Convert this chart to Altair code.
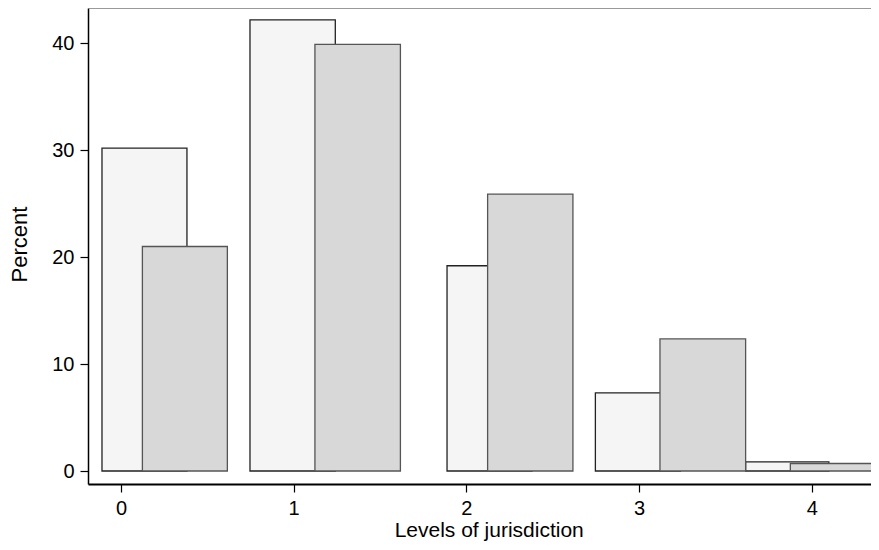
import altair as alt
import pandas as pd

# Histogram bars (bin edges on the x scale, percent heights)
light_start = [-0.110, 0.747, 1.888, 2.747, 3.617]
light_end = [0.382, 1.241, 2.380, 3.240, 4.099]
light_pct = [30.2, 42.2, 19.2, 7.3, 0.85]

dark_start = [0.124, 1.123, 2.123, 3.121, 3.876]
dark_end = [0.616, 1.618, 2.617, 3.617, 4.372]
dark_pct = [21.0, 39.9, 25.9, 12.35, 0.7]

x_ticks = [0, 1, 2, 3, 4]
y_ticks = [0, 10, 20, 30, 40]

light_df = pd.DataFrame({"x0": light_start, "x1": light_end, "pct": light_pct, "base": 0.0})
dark_df = pd.DataFrame({"x0": dark_start, "x1": dark_end, "pct": dark_pct, "base": 0.0})

FONT = "Liberation Sans"
W, H = 783, 476

xscale = alt.Scale(domain=[-0.191, 4.343], nice=False, zero=False)
yscale = alt.Scale(domain=[-1.216, 43.31], nice=False, zero=False)

xaxis = alt.Axis(values=x_ticks, format="d", title="Levels of jurisdiction",
                 domainWidth=2, labelPadding=6, labelFontSize=20,
                 titleFontSize=21,
                 titleX=400.7, titleY=52.5, titleBaseline="alphabetic")
yaxis = alt.Axis(values=y_ticks, format="d", title="Percent",
                 domainWidth=1.5, labelPadding=6, labelFontSize=20,
                 titleFontSize=22,
                 titleX=-61.3, titleY=236, titleBaseline="alphabetic")

light = alt.Chart(light_df).mark_rect(
    fill="#f5f5f5", stroke="#222222", strokeWidth=1.3
).encode(
    x=alt.X("x0:Q", scale=xscale, axis=xaxis),
    x2="x1:Q",
    y=alt.Y("pct:Q", scale=yscale, axis=yaxis),
    y2="base:Q",
)

dark = alt.Chart(dark_df).mark_rect(
    fill="#d8d8d8", stroke="#555555", strokeWidth=1.3
).encode(
    x=alt.X("x0:Q", scale=xscale, axis=xaxis),
    x2="x1:Q",
    y=alt.Y("pct:Q", scale=yscale, axis=yaxis),
    y2="base:Q",
)

top_rule = alt.Chart(pd.DataFrame({"a": [0]})).mark_rule(
    color="#777777", strokeWidth=1.5
).encode(
    y=alt.value(0), x=alt.value(0), x2=alt.value(W)
)

chart = alt.layer(light, dark, top_rule).properties(
    width=W,
    height=H,
    padding={"left": 80, "top": 0, "right": 0, "bottom": 58},
    autosize=alt.AutoSizeParams(type="none"),
).configure_view(
    stroke=None
).configure_axis(
    grid=False,
    labelFont=FONT,
    titleFont=FONT,
    titleFontWeight="normal",
    labelColor="#000000",
    titleColor="#000000",
    tickColor="#000000",
    domainColor="#000000",
    tickSize=8,
    tickWidth=1.2,
).configure_axisY(
    labelAngle=0,
)

chart.save("out.html", embed_options={"renderer": "svg", "actions": False})
